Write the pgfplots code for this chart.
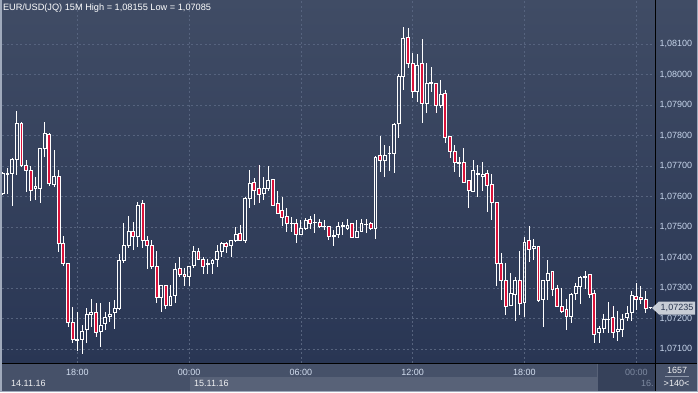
\documentclass[border=0pt]{standalone}
\usepackage{fontspec}
\setmainfont{Liberation Sans}
\usepackage{pgfplots}
\pgfplotsset{compat=1.18}
\usepgfplotslibrary{statistics}
\usepackage{pgfplotstable}

\definecolor{bgtop}{RGB}{64,76,101}
\definecolor{bgbot}{RGB}{41,54,84}
\definecolor{gridc}{RGB}{86,99,126}
\definecolor{cred}{RGB}{218,18,58}
\definecolor{ticktxt}{RGB}{200,214,236}
\definecolor{panel}{RGB}{70,81,105}
\definecolor{panelhi}{RGB}{88,98,120}
\definecolor{paneldk}{RGB}{54,65,90}
\definecolor{dimtxt}{RGB}{125,137,160}
\definecolor{tagbg}{RGB}{200,205,214}
\definecolor{tagtxt}{RGB}{40,52,78}
\definecolor{framec}{RGB}{160,170,188}

% 15-minute candles, EUR/USD (open high low close)
\pgfplotstableread{
o h l c
1.07611 1.07680 1.07605 1.07676
1.07673 1.07693 1.07608 1.07676
1.07674 1.07725 1.07570 1.07720
1.07720 1.07880 1.07671 1.07840
1.07840 1.07844 1.07698 1.07703
1.07702 1.07720 1.07616 1.07684
1.07684 1.07700 1.07586 1.07621
1.07627 1.07663 1.07589 1.07632
1.07627 1.07758 1.07580 1.07758
1.07758 1.07844 1.07731 1.07807
1.07805 1.07809 1.07635 1.07643
1.07638 1.07753 1.07632 1.07665
1.07665 1.07687 1.07419 1.07447
1.07447 1.07471 1.07373 1.07381
1.07381 1.07381 1.07173 1.07188
1.07188 1.07239 1.07119 1.07130
1.07129 1.07222 1.07093 1.07132
1.07132 1.07179 1.07085 1.07159
1.07165 1.07233 1.07121 1.07214
1.07214 1.07263 1.07173 1.07220
1.07220 1.07250 1.07140 1.07155
1.07158 1.07250 1.07108 1.07178
1.07184 1.07222 1.07162 1.07204
1.07206 1.07255 1.07190 1.07214
1.07220 1.07261 1.07166 1.07233
1.07233 1.07412 1.07228 1.07390
1.07390 1.07512 1.07381 1.07438
1.07438 1.07536 1.07430 1.07487
1.07486 1.07517 1.07425 1.07470
1.07470 1.07583 1.07435 1.07572
1.07578 1.07589 1.07430 1.07457
1.07457 1.07471 1.07361 1.07438
1.07438 1.07457 1.07361 1.07370
1.07370 1.07421 1.07252 1.07270
1.07270 1.07308 1.07222 1.07308
1.07308 1.07308 1.07230 1.07242
1.07242 1.07310 1.07242 1.07272
1.07274 1.07381 1.07252 1.07361
1.07365 1.07401 1.07337 1.07345
1.07345 1.07365 1.07308 1.07339
1.07337 1.07373 1.07308 1.07370
1.07373 1.07438 1.07365 1.07421
1.07421 1.07430 1.07392 1.07394
1.07394 1.07403 1.07346 1.07370
1.07378 1.07394 1.07346 1.07381
1.07381 1.07394 1.07346 1.07390
1.07394 1.07441 1.07370 1.07421
1.07421 1.07452 1.07403 1.07447
1.07447 1.07452 1.07414 1.07435
1.07439 1.07457 1.07403 1.07455
1.07455 1.07499 1.07452 1.07476
1.07479 1.07507 1.07455 1.07455
1.07455 1.07599 1.07449 1.07592
1.07592 1.07687 1.07561 1.07643
1.07647 1.07660 1.07572 1.07619
1.07627 1.07703 1.07578 1.07608
1.07611 1.07665 1.07589 1.07627
1.07625 1.07700 1.07618 1.07654
1.07656 1.07656 1.07569 1.07572
1.07578 1.07619 1.07543 1.07545
1.07553 1.07599 1.07503 1.07531
1.07534 1.07561 1.07485 1.07512
1.07511 1.07534 1.07485 1.07512
1.07512 1.07526 1.07447 1.07477
1.07477 1.07523 1.07477 1.07496
1.07496 1.07529 1.07490 1.07523
1.07525 1.07536 1.07492 1.07512
1.07514 1.07542 1.07479 1.07515
1.07515 1.07526 1.07499 1.07501
1.07502 1.07523 1.07490 1.07503
1.07503 1.07503 1.07457 1.07468
1.07469 1.07490 1.07438 1.07471
1.07474 1.07515 1.07463 1.07501
1.07503 1.07515 1.07474 1.07504
1.07496 1.07525 1.07490 1.07504
1.07512 1.07512 1.07464 1.07466
1.07466 1.07523 1.07466 1.07487
1.07487 1.07525 1.07485 1.07512
1.07508 1.07525 1.07479 1.07509
1.07512 1.07516 1.07490 1.07496
1.07496 1.07733 1.07460 1.07729
1.07733 1.07798 1.07681 1.07717
1.07717 1.07769 1.07665 1.07733
1.07741 1.07766 1.07685 1.07742
1.07742 1.07840 1.07676 1.07835
1.07840 1.08001 1.07793 1.07995
1.07995 1.08155 1.07949 1.08117
1.08121 1.08152 1.08020 1.08037
1.08037 1.08070 1.07924 1.07944
1.07944 1.08067 1.07909 1.08031
1.08037 1.08117 1.07842 1.07906
1.07906 1.08037 1.07873 1.07971
1.07972 1.08024 1.07942 1.07973
1.07971 1.07971 1.07873 1.07897
1.07897 1.07982 1.07889 1.07935
1.07938 1.07949 1.07775 1.07794
1.07796 1.07796 1.07727 1.07749
1.07749 1.07769 1.07681 1.07712
1.07710 1.07731 1.07665 1.07711
1.07712 1.07760 1.07647 1.07647
1.07652 1.07652 1.07561 1.07619
1.07616 1.07720 1.07616 1.07684
1.07673 1.07703 1.07599 1.07674
1.07665 1.07714 1.07619 1.07673
1.07676 1.07687 1.07550 1.07636
1.07638 1.07673 1.07523 1.07581
1.07581 1.07581 1.07308 1.07381
1.07381 1.07414 1.07261 1.07324
1.07324 1.07381 1.07213 1.07240
1.07242 1.07348 1.07242 1.07283
1.07279 1.07337 1.07193 1.07326
1.07326 1.07421 1.07211 1.07250
1.07252 1.07466 1.07206 1.07450
1.07457 1.07503 1.07384 1.07427
1.07429 1.07460 1.07392 1.07435
1.07435 1.07435 1.07253 1.07258
1.07261 1.07324 1.07173 1.07324
1.07324 1.07392 1.07261 1.07348
1.07353 1.07353 1.07275 1.07296
1.07299 1.07310 1.07239 1.07239
1.07239 1.07299 1.07219 1.07222
1.07230 1.07264 1.07162 1.07206
1.07206 1.07283 1.07186 1.07279
1.07283 1.07315 1.07261 1.07304
1.07304 1.07339 1.07248 1.07335
1.07336 1.07356 1.07296 1.07337
1.07345 1.07345 1.07268 1.07279
1.07283 1.07293 1.07121 1.07148
1.07153 1.07175 1.07121 1.07168
1.07168 1.07215 1.07153 1.07197
1.07196 1.07253 1.07153 1.07197
1.07204 1.07241 1.07137 1.07155
1.07157 1.07225 1.07127 1.07165
1.07165 1.07215 1.07140 1.07197
1.07204 1.07242 1.07192 1.07215
1.07219 1.07290 1.07193 1.07274
1.07272 1.07315 1.07228 1.07263
1.07270 1.07307 1.07248 1.07263
1.07263 1.07291 1.07219 1.07233
1.07235 1.07236 1.07234 1.07235
}\candles

\pgfplotsset{
  candle up/.style={draw=white, fill=none, line width=0.9pt},
  candle down/.style={draw=white, fill=cred, line width=0.9pt},
}
% the y axis is drawn in thousandths above 1.07000 (1 unit = 0.001)
\newcommand\toaxis[1]{\fpeval{round((#1-1.07)*1000,5)}}

\begin{document}
\begin{tikzpicture}
% backgrounds
\shade[top color=bgtop, bottom color=bgbot] (0pt,29pt) rectangle (698pt,392pt);
\fill[panel] (0pt,0pt) rectangle (698pt,29pt);
\fill[panelhi] (190pt,1.5pt) rectangle (597pt,15pt);
\fill[paneldk] (597pt,0pt) rectangle (655pt,29pt);
\draw[panelhi, line width=0.8pt] (597.4pt,1.2pt) -- (597.4pt,28pt);
\fill[panel] (655pt,0pt) rectangle (698pt,29pt);
\draw[framec!80!panel, line width=0.7pt] (665pt,15.5pt) -- (689pt,15.5pt);

\begin{axis}[
  at={(2pt,29pt)}, anchor=south west,
  scale only axis, width=653pt, height=363pt,
  xmin=-0.17, xmax=140.02,
  ymin=0.541, ymax=12.443,
  axis line style={draw=none},
  major tick length=0pt,
  grid=major,
  major grid style={gridc, dash pattern=on 2pt off 2.5pt, line width=0.7pt},
  xtick={16,40,64,88,112,136},
  xticklabels={18:00,00:00,06:00,12:00,18:00,\textcolor{dimtxt}{00:00}},
  ytick={1,2,3,4,5,6,7,8,9,10,11},
  yticklabels={{1,07100},{1,07200},{1,07300},{1,07400},{1,07500},{1,07600},{1,07700},{1,07800},{1,07900},{1,08000},{1,08100}},
  yticklabel pos=right,
  tick label style={font=\fontsize{9}{10}\selectfont},
  xticklabel style={text=ticktxt!80!white, yshift=-2.5pt},
  yticklabel style={text=ticktxt, xshift=1pt},
  boxplot/draw direction=y,
  boxplot/box extend=0.62,
  boxplot/whisker extend=0,
]
\pgfplotsinvokeforeach{0,...,139}{%
  \pgfplotstablegetelem{#1}{o}\of\candles \edef\vo{\pgfplotsretval}%
  \pgfplotstablegetelem{#1}{h}\of\candles \edef\vh{\toaxis{\pgfplotsretval}}%
  \pgfplotstablegetelem{#1}{l}\of\candles \edef\vl{\toaxis{\pgfplotsretval}}%
  \pgfplotstablegetelem{#1}{c}\of\candles \edef\vc{\pgfplotsretval}%
  \ifdim\vo pt>\vc pt
    \edef\mycandle{\noexpand\addplot[candle down, boxplot prepared={draw position=#1, lower whisker=\vl, lower quartile=\toaxis{\vc}, median=\toaxis{\vc}, upper quartile=\toaxis{\vo}, upper whisker=\vh}] coordinates {};}%
  \else
    \edef\mycandle{\noexpand\addplot[candle up, boxplot prepared={draw position=#1, lower whisker=\vl, lower quartile=\toaxis{\vo}, median=\toaxis{\vo}, upper quartile=\toaxis{\vc}, upper whisker=\vh}] coordinates {};}%
  \fi
  \mycandle
}
\end{axis}

% separators and frame
\draw[black, line width=1pt] (0pt,28.5pt) -- (698pt,28.5pt);
\draw[black, line width=1pt] (655.5pt,0pt) -- (655.5pt,392pt);
\fill[framec] (0pt,0pt) rectangle (1.5pt,392pt);
\fill[framec] (0pt,0pt) rectangle (698pt,1.2pt);
\fill[framec] (697pt,0pt) rectangle (698pt,392pt);

% title
\node[anchor=west, text=white, font=\fontsize{9.2}{10}\selectfont, inner sep=0pt] at (2.8pt,384pt) {EUR/USD(JQ) 15M High = 1,08155 Low = 1,07085};

% last price tag
\fill[tagbg] (652pt,84pt) -- (659pt,90.5pt) -- (695pt,90.5pt) -- (695pt,77.5pt) -- (659pt,77.5pt) -- cycle;
\node[text=tagtxt, font=\fontsize{9}{10}\selectfont, inner sep=0pt] at (677pt,84pt) {1,07235};

% date labels
\node[anchor=west, text=white!92!panel, font=\fontsize{9}{10}\selectfont, inner sep=0pt] at (11pt,9pt) {14.11.16};
\node[anchor=west, text=white!92!panel, font=\fontsize{9}{10}\selectfont, inner sep=0pt] at (194pt,9pt) {15.11.16};
\node[anchor=west, text=dimtxt, font=\fontsize{9}{10}\selectfont, inner sep=0pt] at (641pt,9pt) {16.};

% bar counter box
\node[text=white!92!panel, font=\fontsize{9}{10}\selectfont, inner sep=0pt] at (677pt,21.5pt) {1657};
\node[text=white!92!panel, font=\fontsize{9}{10}\selectfont, inner sep=0pt] at (676.5pt,8.5pt) {>140<};

\pgfresetboundingbox
\useasboundingbox (0pt,0pt) rectangle (698pt,392pt);
\end{tikzpicture}
\end{document}
